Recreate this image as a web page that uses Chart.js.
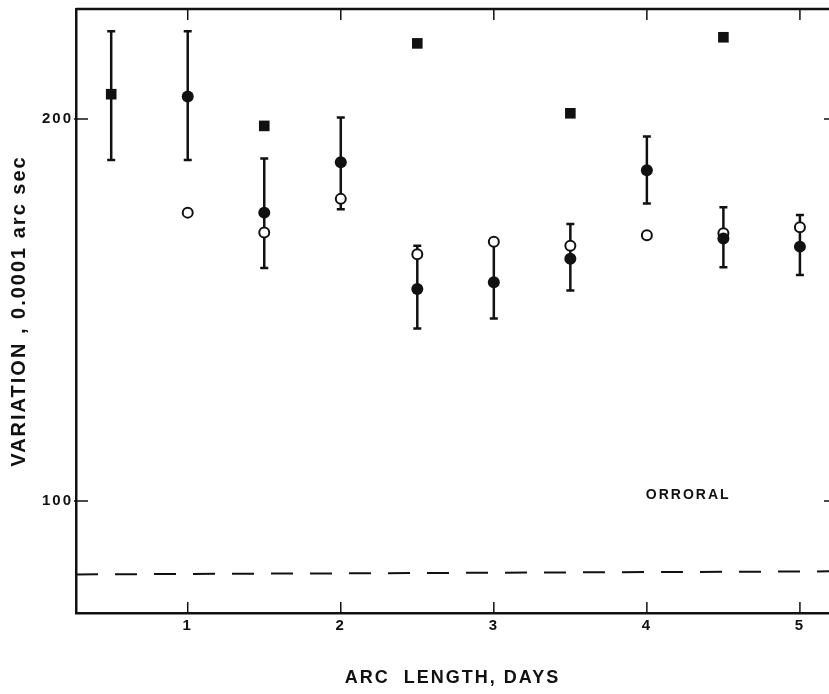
<!DOCTYPE html>
<html>
<head>
<meta charset="utf-8">
<script src="https://cdn.jsdelivr.net/npm/chart.js@4.4.1/dist/chart.umd.min.js"></script>
<style>
html,body{margin:0;padding:0;background:#fff;}
#wrap{width:829px;height:694px;}
</style>
</head>
<body>
<div id="wrap"><canvas id="arcChart" width="829" height="694"></canvas></div>
<script>
// arc length (days) and variation values
const xFilled = [1, 1.5, 2, 2.5, 3, 3.5, 4, 4.5, 5];
const filledVals = [205.9, 175.5, 188.7, 155.5, 157.3, 163.4, 186.6, 168.7, 166.6];
const filledLow = [189.3, 161, 176.4, 145.2, 147.8, 155.1, 177.9, 161.2, 159.2];
const filledHigh = [223, 189.7, 200.4, 166.8, 167.9, 172.5, 195.4, 176.9, 174.9];

const xOpen = [1, 1.5, 2, 2.5, 3, 3.5, 4, 4.5, 5];
const openVals = [175.5, 170.3, 179.1, 164.6, 167.9, 166.8, 169.6, 170.1, 171.7];

const xSquare = [0.5, 1.5, 2.5, 3.5, 4.5];
const squareVals = [206.5, 198.2, 219.8, 201.5, 221.4];
const squareLow = [189.3, null, null, null, null];
const squareHigh = [223, null, null, null, null];

const dashX = [0.27, 5.19];
const dashVals = [80.8, 81.6];

const xTicks = [1, 2, 3, 4, 5];
const yTicks = [100, 200];

const noteText = "ORRORAL";
const notePos = {x: 4.27, y: 101.6};

const ink = "#111";
const fam = "'Liberation Sans', Arial, sans-serif";
const toPts = (xs, ys) => xs.map((x, i) => ({x: x, y: ys[i]}));

const errorBars = {
    id: "errorBars",
    beforeDatasetsDraw(chart){
        const ctx = chart.ctx;
        const xs = chart.scales.x, ys = chart.scales.y;
        const groups = [[xFilled, filledLow, filledHigh], [xSquare, squareLow, squareHigh]];
        ctx.save();
        ctx.strokeStyle = ink;
        ctx.lineWidth = 2.5;
        groups.forEach(([gx, lo, hi]) => {
            gx.forEach((x, i) => {
                if(lo[i] == null) return;
                const px = xs.getPixelForValue(x);
                const p1 = ys.getPixelForValue(lo[i]);
                const p2 = ys.getPixelForValue(hi[i]);
                ctx.beginPath();
                ctx.moveTo(px, p1); ctx.lineTo(px, p2);
                ctx.moveTo(px - 4, p1); ctx.lineTo(px + 4, p1);
                ctx.moveTo(px - 4, p2); ctx.lineTo(px + 4, p2);
                ctx.stroke();
            });
        });
        ctx.restore();
    }
};

const frame = {
    id: "frame",
    beforeDraw(chart){
        chart.ctx.letterSpacing = "2px";
    },
    afterDraw(chart){
        const ctx = chart.ctx;
        const a = chart.chartArea;
        const xs = chart.scales.x, ys = chart.scales.y;
        ctx.save();
        ctx.strokeStyle = ink;
        ctx.lineWidth = 2.5;
        ctx.beginPath();
        ctx.moveTo(a.left, a.top); ctx.lineTo(a.right, a.top);
        ctx.stroke();
        ctx.lineWidth = 1.5;
        ctx.beginPath();
        xTicks.forEach(t => {
            const px = xs.getPixelForValue(t);
            ctx.moveTo(px, a.bottom); ctx.lineTo(px, a.bottom - 11);
            ctx.moveTo(px, a.top); ctx.lineTo(px, a.top + 11);
        });
        yTicks.forEach(t => {
            const py = ys.getPixelForValue(t);
            ctx.moveTo(a.left - 2, py); ctx.lineTo(a.left + 12, py);
            ctx.moveTo(a.right, py); ctx.lineTo(a.right - 5, py);
        });
        ctx.stroke();
        ctx.fillStyle = ink;
        ctx.font = "bold 14px " + fam;
        ctx.textAlign = "center";
        ctx.textBaseline = "middle";
        ctx.fillText(noteText, xs.getPixelForValue(notePos.x), ys.getPixelForValue(notePos.y));
        ctx.restore();
    }
};

const tickFont = {family: fam, size: 15, weight: "bold"};

new Chart(document.getElementById("arcChart").getContext("2d"), {
    type: "scatter",
    data: {
        datasets: [
            {
                label: "dashed",
                type: "line",
                data: toPts(dashX, dashVals),
                borderColor: ink,
                borderWidth: 2,
                borderDash: [22, 17],
                pointRadius: 0,
                fill: false
            },
            {
                label: "squares",
                data: toPts(xSquare, squareVals),
                pointStyle: "rect",
                pointRadius: 7.5,
                backgroundColor: ink,
                borderColor: ink,
                borderWidth: 0
            },
            {
                label: "filled",
                data: toPts(xFilled, filledVals),
                pointStyle: "circle",
                pointRadius: 6,
                backgroundColor: ink,
                borderColor: ink,
                borderWidth: 0
            },
            {
                label: "open",
                data: toPts(xOpen, openVals),
                pointStyle: "circle",
                pointRadius: 5,
                backgroundColor: "#fff",
                borderColor: ink,
                borderWidth: 2
            }
        ]
    },
    options: {
        responsive: false,
        animation: false,
        layout: {autoPadding: false, padding: {top: 9, right: 0, left: 0, bottom: 0}},
        plugins: {legend: {display: false}, tooltip: {enabled: false}},
        scales: {
            x: {
                type: "linear",
                min: 0.27,
                max: 5.19,
                afterBuildTicks: s => { s.ticks = xTicks.map(v => ({value: v})); },
                afterFit: s => { s.height = 81; s.paddingLeft = 0; s.paddingRight = 0; },
                grid: {display: false, drawTicks: false},
                border: {display: true, color: ink, width: 2.5},
                ticks: {color: ink, font: tickFont, padding: 4, maxRotation: 0},
                title: {
                    display: true,
                    text: "ARC  LENGTH, DAYS",
                    color: ink,
                    font: {family: fam, size: 18, weight: "bold"},
                    padding: {top: 0, bottom: 5}
                }
            },
            y: {
                type: "linear",
                min: 70.7,
                max: 228.8,
                afterBuildTicks: s => { s.ticks = yTicks.map(v => ({value: v})); },
                afterFit: s => { s.width = 76; s.paddingTop = 0; s.paddingBottom = 0; },
                grid: {display: false, drawTicks: false},
                border: {display: true, color: ink, width: 2.5},
                ticks: {color: ink, font: tickFont, padding: 3},
                title: {
                    display: true,
                    text: "VARIATION , 0.0001 arc sec",
                    color: ink,
                    font: {family: fam, size: 20, weight: "bold"},
                    padding: {top: 7, bottom: 0}
                }
            }
        }
    },
    plugins: [errorBars, frame]
});
</script>
</body>
</html>
